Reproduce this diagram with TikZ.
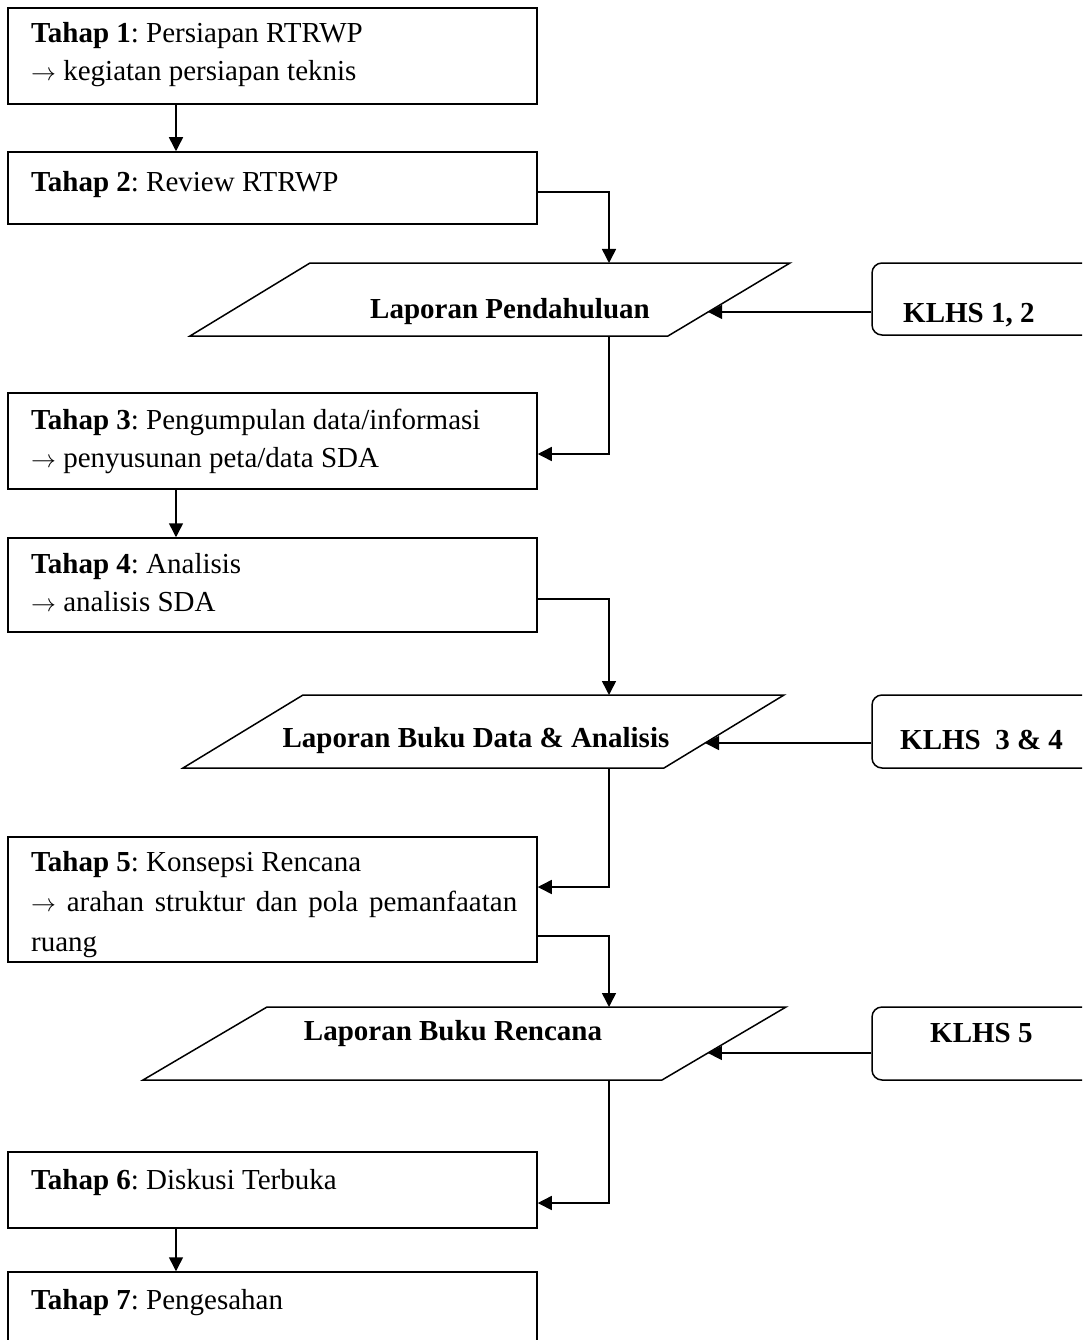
\documentclass[tikz,border=0pt]{standalone}
\usepackage{fontspec}
\setmainfont{Liberation Serif}
\usetikzlibrary{arrows.meta,calc}
\frenchspacing
\begin{document}
\begin{tikzpicture}[x=1pt,y=-1pt,
  box/.style={draw, line width=1.5pt, minimum width=529pt, inner sep=0pt},
  klhs/.style={draw, line width=1.5pt, rounded corners=10pt, minimum width=240pt, inner sep=0pt},
  arr/.style={line width=1.5pt, -{Triangle[length=14pt,width=14pt]}},
  para/.style={draw, line width=1.5pt, line join=miter},
  lbl/.style={anchor=base west, inner sep=0pt, font=\fontsize{29}{35}\selectfont},
  blbl/.style={anchor=base, inner sep=0pt, font=\fontsize{29}{35}\selectfont\bfseries},
  klbl/.style={anchor=base west, inner sep=0pt, font=\fontsize{29}{35}\selectfont\bfseries},
]
\useasboundingbox (0,0) rectangle (1082,1340);
\clip (0,0) rectangle (1082,1340);

% stage boxes
\node[box, minimum height=96pt]  (b1) at (272.5,56) {};
\node[box, minimum height=72pt]  (b2) at (272.5,188) {};
\node[box, minimum height=96pt]  (b3) at (272.5,441) {};
\node[box, minimum height=94pt]  (b4) at (272.5,585) {};
\node[box, minimum height=125pt] (b5) at (272.5,899.5) {};
\node[box, minimum height=76pt]  (b6) at (272.5,1190) {};
\node[box, minimum height=108pt] (b7) at (272.5,1326) {};

% stage texts
\node[lbl] (t1a) at (31,43) {\textbf{Tahap 1}: Persiapan RTRWP};
\node[lbl] (t1b) at (31,81) {$\rightarrow$ kegiatan persiapan teknis};
\node[lbl] (t2a) at (31,192) {\textbf{Tahap 2}: Review RTRWP};
\node[lbl] (t3a) at (31,429) {\textbf{Tahap 3}: Pengumpulan data/informasi};
\node[lbl] (t3b) at (31,467) {$\rightarrow$ penyusunan peta/data SDA};
\node[lbl] (t4a) at (31,573) {\textbf{Tahap 4}: Analisis};
\node[lbl] (t4b) at (31,611) {$\rightarrow$ analisis SDA};
\node[lbl] (t5a) at (31,871) {\textbf{Tahap 5}: Konsepsi Rencana};
\node[lbl] (t5b) at (31,911) {\makebox[486pt][s]{$\rightarrow$ arahan struktur dan pola pemanfaatan}};
\node[lbl] (t5c) at (31,951) {ruang};
\node[lbl] (t6a) at (31,1189) {\textbf{Tahap 6}: Diskusi Terbuka};
\node[lbl] (t7a) at (31,1309) {\textbf{Tahap 7}: Pengesahan};

% parallelograms
\coordinate (p1tl) at (310,263); \coordinate (p1tr) at (790,263);
\coordinate (p1br) at (668,336); \coordinate (p1bl) at (190,336);
\draw[para] (p1tl) -- (p1tr) -- (p1br) -- (p1bl) -- cycle;
\coordinate (p1in) at ($(p1tr)!0.671!(p1br)$);
\coordinate (p1top) at (609,263); \coordinate (p1bot) at (609,336);
\node[blbl] (l1) at (510,318) {Laporan Pendahuluan};

\coordinate (p2tl) at (303,695); \coordinate (p2tr) at (784,695);
\coordinate (p2br) at (664,768); \coordinate (p2bl) at (183,768);
\draw[para] (p2tl) -- (p2tr) -- (p2br) -- (p2bl) -- cycle;
\coordinate (p2in) at ($(p2tr)!0.658!(p2br)$);
\coordinate (p2top) at (609,695); \coordinate (p2bot) at (609,768);
\node[blbl] (l2) at (476,747) {Laporan Buku Data \& Analisis};

\coordinate (p3tl) at (267,1007); \coordinate (p3tr) at (786,1007);
\coordinate (p3br) at (662,1080); \coordinate (p3bl) at (143,1080);
\draw[para] (p3tl) -- (p3tr) -- (p3br) -- (p3bl) -- cycle;
\coordinate (p3in) at ($(p3tr)!0.63!(p3br)$);
\coordinate (p3top) at (609,1007); \coordinate (p3bot) at (609,1080);
\node[blbl] (l3) at (453,1040) {Laporan Buku Rencana};

% KLHS boxes
\node[klhs, minimum height=72pt] (k1) at (992,299) {};
\node[klhs, minimum height=73pt] (k2) at (992,731.5) {};
\node[klhs, minimum height=73pt] (k3) at (992,1043.5) {};
\node[klbl] (kt1) at (903,322) {KLHS 1, 2};
\node[klbl] (kt2) at (900,749) {KLHS\ \ 3 \& 4};
\node[klbl] (kt3) at (930,1042) {KLHS 5};

% connectors
\coordinate (ax) at (176,0);
\draw[arr] (ax |- b1.south) -- (ax |- b2.north);
\draw[arr] (ax |- b3.south) -- (ax |- b4.north);
\draw[arr] (ax |- b6.south) -- (ax |- b7.north);

\draw[arr] ($(b2.east)+(0,4)$) -| (p1top);
\draw[arr] (p1bot) |- ($(b3.east)+(0,13)$);
\draw[arr] ($(b4.east)+(0,14)$) -| (p2top);
\draw[arr] (p2bot) |- ($(b5.east)+(0,-12.5)$);
\draw[arr] ($(b5.east)+(0,36.5)$) -| (p3top);
\draw[arr] (p3bot) |- ($(b6.east)+(0,13)$);

\draw[arr] (k1.west |- p1in) -- (p1in);
\draw[arr] (k2.west |- p2in) -- (p2in);
\draw[arr] (k3.west |- p3in) -- (p3in);
\end{tikzpicture}
\end{document}
